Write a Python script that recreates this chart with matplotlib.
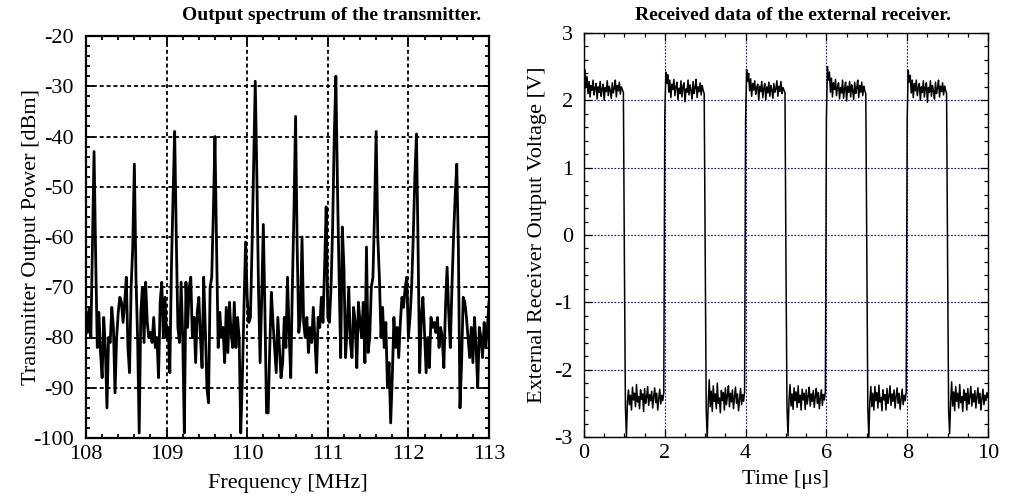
import numpy as np
import matplotlib
matplotlib.use('Agg')
import matplotlib.pyplot as plt
from matplotlib.ticker import MultipleLocator

plt.rcParams['font.family'] = ['Liberation Serif', 'DejaVu Serif']
plt.rcParams['axes.unicode_minus'] = False

# spectrum, 108..113 MHz (0.02 MHz per point)
spectrum_dbm = [
    -75, -79, -74, -80, -62, -43, -64, -82, -75, -83,
    -88, -76, -82, -94, -80, -81, -74, -78, -91, -80,
    -75, -72, -73, -77, -73, -68, -82, -87, -70, -62,
    -45.5, -68, -80, -99, -75, -70, -81, -69, -77, -80,
    -79, -81, -76, -82, -80, -88, -73, -69, -80, -72,
    -80, -78, -87, -66, -52, -39, -60, -78, -81, -69,
    -80, -99, -69, -78, -70, -68, -80, -76, -85, -75,
    -72, -80, -86, -68, -78, -90, -93, -70, -68, -55,
    -40, -62, -82, -75, -80, -78, -85, -74, -83, -73,
    -79, -82, -73, -82, -76, -80, -99, -88, -74, -61,
    -72, -77, -76, -62, -45, -29, -48, -70, -85, -72,
    -57.5, -75, -95, -95, -82, -71, -77, -82, -87, -76,
    -82, -88, -85, -76, -82, -68, -79, -88, -70, -55,
    -36, -62, -79, -76, -60, -77, -80, -76, -83, -78,
    -81, -74, -80, -87, -76, -78, -72, -77, -66, -54,
    -76, -77, -70, -58, -40, -28, -50, -68, -84, -58,
    -66, -84, -78, -70, -81, -84, -74, -77, -86, -73,
    -77, -80, -73, -85, -62, -83, -80, -70, -68, -55,
    -39, -60, -68, -80, -74, -82, -77, -90, -85, -97,
    -88, -76, -82, -78, -84, -77, -72, -74, -70, -68,
    -80, -76, -70, -60, -48, -39.5, -62, -87, -76, -72,
    -79, -87, -80, -86, -76, -78, -77, -79, -76, -82,
    -78, -80, -86, -74, -66, -75, -82, -70, -60, -52,
    -45.5, -62, -94, -85, -72, -73, -76, -80, -84, -78,
    -85, -76, -82, -90, -78, -80, -84, -77, -82, -78, -73,
]
freq_mhz = np.linspace(108, 113, len(spectrum_dbm))

# receiver output: high half-periods (start at 0, 2, 4, 6, 8 us)
high_0 = [1.30, 2.45, 2.20, 2.35, 2.10, 2.28, 2.05, 2.22, 2.15, 2.30,
          2.08, 2.18, 2.25, 2.02, 2.20, 2.12, 2.28, 2.06, 2.17, 2.24,
          2.00, 2.19, 2.13, 2.29, 2.07, 2.21, 2.15, 2.03, 2.26, 2.11,
          2.18, 2.30, 2.05, 2.22, 2.14, 2.27, 2.09, 2.20, 2.16, 2.12]
high_1 = [1.75, 2.42, 2.25, 2.38, 2.12, 2.30, 2.04, 2.24, 2.16, 2.31,
          2.07, 2.20, 2.27, 2.01, 2.18, 2.10, 2.29, 2.05, 2.21, 2.26,
          1.98, 2.17, 2.12, 2.30, 2.08, 2.23, 2.14, 2.02, 2.28, 2.10,
          2.19, 2.31, 2.04, 2.20, 2.13, 2.26, 2.08, 2.22, 2.15, 2.10]
high_2 = [1.70, 2.46, 2.28, 2.40, 2.14, 2.32, 2.06, 2.25, 2.15, 2.29,
          2.09, 2.19, 2.24, 2.00, 2.21, 2.13, 2.28, 2.04, 2.18, 2.25,
          2.01, 2.20, 2.11, 2.27, 2.06, 2.22, 2.16, 2.03, 2.25, 2.12,
          2.17, 2.29, 2.06, 2.21, 2.13, 2.28, 2.10, 2.19, 2.15, 2.11]
high_3 = [1.72, 2.50, 2.30, 2.42, 2.12, 2.33, 2.05, 2.26, 2.16, 2.31,
          2.07, 2.20, 2.26, 2.02, 2.19, 2.11, 2.30, 2.03, 2.18, 2.27,
          1.99, 2.21, 2.12, 2.28, 2.05, 2.23, 2.15, 2.01, 2.27, 2.10,
          2.18, 2.30, 2.04, 2.22, 2.12, 2.27, 2.07, 2.21, 2.14, 2.10]
high_4 = [1.74, 2.45, 2.27, 2.37, 2.11, 2.30, 2.04, 2.25, 2.14, 2.30,
          2.07, 2.19, 2.25, 2.00, 2.20, 2.12, 2.29, 2.05, 2.19, 2.26,
          1.97, 2.19, 2.12, 2.29, 2.06, 2.22, 2.14, 2.02, 2.27, 2.10,
          2.18, 2.30, 2.05, 2.21, 2.13, 2.26, 2.08, 2.21, 2.15, 2.10]

# low half-periods (start at 1, 3, 5, 7, 9 us, first value is the falling edge)
low_0 = [-0.40, -2.55, -3.00, -2.48, -2.30, -2.52, -2.38, -2.60, -2.26, -2.45,
         -2.35, -2.55, -2.22, -2.48, -2.40, -2.58, -2.30, -2.44, -2.36, -2.62,
         -2.28, -2.50, -2.41, -2.25, -2.53, -2.37, -2.46, -2.32, -2.57, -2.40,
         -2.27, -2.49, -2.35, -2.60, -2.43, -2.29, -2.51, -2.38, -2.46, -2.34]
low_1 = [-0.30, -2.60, -3.02, -2.50, -2.15, -2.55, -2.32, -2.62, -2.24, -2.47,
         -2.36, -2.58, -2.20, -2.50, -2.42, -2.64, -2.31, -2.46, -2.34, -2.60,
         -2.27, -2.52, -2.39, -2.24, -2.55, -2.35, -2.48, -2.30, -2.58, -2.41,
         -2.26, -2.50, -2.36, -2.61, -2.44, -2.28, -2.52, -2.37, -2.47, -2.33]
low_2 = [-0.50, -2.58, -2.98, -2.45, -2.22, -2.54, -2.36, -2.59, -2.27, -2.46,
         -2.33, -2.56, -2.24, -2.49, -2.38, -2.60, -2.29, -2.45, -2.35, -2.59,
         -2.30, -2.51, -2.40, -2.26, -2.54, -2.36, -2.47, -2.31, -2.56, -2.39,
         -2.28, -2.50, -2.34, -2.58, -2.42, -2.30, -2.53, -2.37, -2.45, -2.32]
low_3 = [-0.35, -2.57, -3.00, -2.47, -2.25, -2.55, -2.35, -2.60, -2.25, -2.46,
         -2.34, -2.57, -2.23, -2.48, -2.41, -2.61, -2.30, -2.45, -2.37, -2.60,
         -2.28, -2.50, -2.40, -2.24, -2.53, -2.36, -2.47, -2.30, -2.57, -2.40,
         -2.27, -2.50, -2.35, -2.59, -2.43, -2.29, -2.52, -2.38, -2.46, -2.33]
low_4 = [-0.40, -2.60, -2.95, -2.48, -2.18, -2.54, -2.33, -2.61, -2.25, -2.47,
         -2.35, -2.57, -2.22, -2.49, -2.40, -2.62, -2.30, -2.46, -2.35, -2.60,
         -2.28, -2.51, -2.40, -2.25, -2.54, -2.36, -2.48, -2.31, -2.57, -2.40,
         -2.27, -2.50, -2.35, -2.60, -2.43, -2.29, -2.52, -2.38, -2.46, -2.34, -2.40]

highs = [high_0, high_1, high_2, high_3, high_4]
lows = [low_0, low_1, low_2, low_3, low_4]
dt = 0.025  # us per sample

t_parts, v_parts = [], []
for p in range(5):
    t_parts.append(2 * p + dt * np.arange(len(highs[p])))
    v_parts.append(highs[p])
    t_parts.append(2 * p + 1 + dt * np.arange(len(lows[p])))
    v_parts.append(lows[p])
time_us = np.concatenate(t_parts)
volts = np.concatenate(v_parts)

fig = plt.figure(figsize=(10.22, 4.97), dpi=100)
ax1 = fig.add_axes([86 / 1022, 1 - 438 / 497, 403 / 1022, 402 / 497])
ax2 = fig.add_axes([584 / 1022, 1 - 437 / 497, 404 / 1022, 404 / 497])

# left: spectrum
ax1.plot(freq_mhz, spectrum_dbm, color='black', lw=2.0)
ax1.set_xlim(108, 113)
ax1.set_ylim(-100, -20)
ax1.xaxis.set_major_locator(MultipleLocator(1))
ax1.xaxis.set_minor_locator(MultipleLocator(0.2))
ax1.yaxis.set_major_locator(MultipleLocator(10))
ax1.yaxis.set_minor_locator(MultipleLocator(2))
ax1.grid(True, which='major', color='black', ls=(0, (2.2, 1.6)), lw=1.3)
for s in ax1.spines.values():
    s.set_linewidth(1.6)
ax1.tick_params(which='both', direction='in', top=True, right=True, labelsize=16, width=1.3)
ax1.tick_params(which='major', length=6)
ax1.tick_params(which='minor', length=3)
ax1.tick_params(axis='y', pad=9)
ax1.tick_params(axis='x', pad=5)
ax1.set_xlabel('Frequency [MHz]', fontsize=16, va='center')
ax1.set_ylabel('Transmitter Output Power [dBm]', fontsize=16, va='center')
ax1.xaxis.set_label_coords(0.5, -0.112)
ax1.yaxis.set_label_coords(-0.134, 0.5)
fig.text(332 / 1022, 1 - 15 / 497, 'Output spectrum of the transmitter.',
         ha='center', va='center', fontsize=14, fontweight='bold')

# right: receiver output
ax2.plot(time_us, volts, color='black', lw=1.1)
ax2.set_xlim(0, 10)
ax2.set_ylim(-3, 3)
ax2.xaxis.set_major_locator(MultipleLocator(2))
ax2.xaxis.set_minor_locator(MultipleLocator(0.5))
ax2.yaxis.set_major_locator(MultipleLocator(1))
ax2.yaxis.set_minor_locator(MultipleLocator(0.2))
ax2.grid(True, which='major', color='#0000dd', ls=(0, (1.5, 1.5)), lw=0.8)
for s in ax2.spines.values():
    s.set_linewidth(1.0)
ax2.tick_params(which='both', direction='in', top=True, right=True, labelsize=16, width=0.9)
ax2.tick_params(which='major', length=6)
ax2.tick_params(which='minor', length=3)
ax2.tick_params(axis='y', pad=8)
ax2.tick_params(axis='x', pad=5)
ax2.set_xlabel('Time [\u03bcs]', fontsize=16, va='center')
ax2.set_ylabel('External Receiver Output Voltage [V]', fontsize=16, va='center')
ax2.xaxis.set_label_coords(0.5, -0.106)
ax2.yaxis.set_label_coords(-0.116, 0.5)
fig.text(793 / 1022, 1 - 15 / 497, 'Received data of the external receiver.',
         ha='center', va='center', fontsize=14, fontweight='bold')

fig.savefig('out.png', dpi=100)
